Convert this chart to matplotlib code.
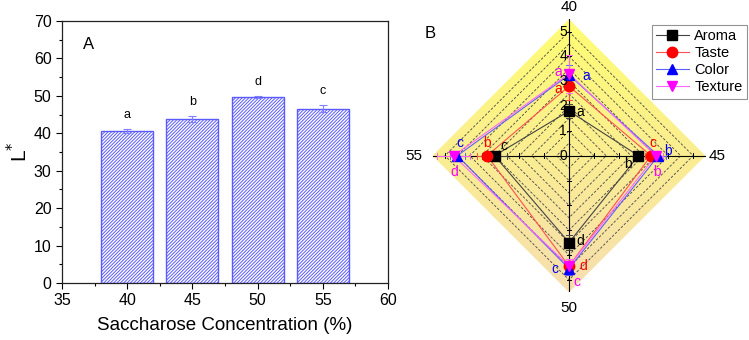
import numpy as np
import matplotlib
matplotlib.use("Agg")
import matplotlib.pyplot as plt
from matplotlib.patches import Polygon
from matplotlib.ticker import MultipleLocator

plt.rcParams['font.family'] = ['Liberation Sans', 'DejaVu Sans']

# ---------------- data ----------------
conc = [40, 45, 50, 55]
L_values = [40.6, 43.8, 49.7, 46.6]
L_err = [0.6, 0.7, 0.3, 0.9]
L_sig = ['a', 'b', 'd', 'c']

radar_levels = ['40', '45', '50', '55']
aroma = [1.8, 2.8, 3.5, 3.0]
taste = [2.8, 3.3, 4.45, 3.3]
color = [3.25, 3.6, 4.55, 4.5]
texture = [3.3, 3.5, 4.45, 4.65]
aroma_err = [0.3, 0.2, 0.3, 0.5]
taste_err = [0.55, 0.25, 0.3, 0.4]
color_err = [0.4, 0.3, 0.25, 0.3]
texture_err = [0.76, 0.3, 0.3, 0.65]
aroma_sig = ['a', 'b', 'd', 'c']
taste_sig = ['a', 'c', 'd', 'b']
color_sig = ['a', 'b', 'c', 'c']
texture_sig = ['a', 'b', 'c', 'd']
radar_ticks = [0, 1, 2, 3, 4, 5]
rmax = 5.5

W, H = 749, 340
fig = plt.figure(figsize=(W / 100, H / 100), dpi=100)

# ---------------- panel A ----------------
ax1 = fig.add_axes([62 / W, 1 - 283 / H, (388 - 62) / W, (283 - 21) / H])
bar_blue = '#5a5aFF'
plt.rcParams['hatch.linewidth'] = 0.7
ax1.bar(conc, L_values, width=4, facecolor='white', edgecolor=bar_blue,
        hatch='//////////', linewidth=1.0, zorder=2)
ax1.errorbar(conc, L_values, yerr=L_err, fmt='none', ecolor='#8080FF',
             elinewidth=0.8, capsize=3, capthick=0.8, zorder=3)
for x, v, e, s in zip(conc, L_values, L_err, L_sig):
    ax1.annotate(s, (x, v + e), xytext=(0, 8), textcoords='offset pixels',
                 ha='center', va='bottom', fontsize=9)
ax1.set_xlim(35, 60)
ax1.set_ylim(0, 70)
ax1.xaxis.set_major_locator(MultipleLocator(5))
ax1.xaxis.set_minor_locator(MultipleLocator(2.5))
ax1.yaxis.set_major_locator(MultipleLocator(10))
ax1.yaxis.set_minor_locator(MultipleLocator(5))
ax1.tick_params(which='major', direction='out', length=4, width=0.8, labelsize=11.5)
ax1.tick_params(which='minor', direction='out', length=2.5, width=0.8)
for sp in ax1.spines.values():
    sp.set_linewidth(0.9)
    sp.set_color('#222222')
ax1.set_xlabel('Saccharose Concentration (%)', fontsize=13.5, labelpad=6)
ax1.set_ylabel('L$^{*}$', fontsize=15, labelpad=2)
ax1.text(0.065, 0.94, 'A', transform=ax1.transAxes, fontsize=12, va='top')

# ---------------- panel B ----------------
R = 136.5
cx, cy = 569, 155.7
ax2 = fig.add_axes([(cx - R) / W, 1 - (cy + R) / H, 2 * R / W, 2 * R / H])
ax2.set_xlim(-rmax, rmax)
ax2.set_ylim(-rmax, rmax)
ax2.axis('off')

angles = np.deg2rad([90, 0, -90, 180])
dirs = np.column_stack([np.cos(angles), np.sin(angles)])

def to_xy(vals):
    v = np.asarray(vals, dtype=float)[:, None]
    return dirs * v

# gradient background clipped to diamond
diamond = Polygon(to_xy([rmax] * 4), closed=True, facecolor='none',
                  edgecolor='none', transform=ax2.transData)
ax2.add_patch(diamond)
top = np.array([255, 253, 115]) / 255
bot = np.array([246, 222, 176]) / 255
t = np.linspace(0, 1, 256)[:, None]
grad = (top[None, :] * (1 - t) + bot[None, :] * t)[:, None, :]
im = ax2.imshow(grad, extent=[-rmax, rmax, -rmax, rmax], aspect='auto',
                origin='upper', zorder=0, interpolation='bilinear')
im.set_clip_path(diamond)

# dashed grid diamonds
for lev in np.arange(0.5, 5.01, 0.5):
    pts = to_xy([lev] * 4)
    pts = np.vstack([pts, pts[:1]])
    ax2.plot(pts[:, 0], pts[:, 1], color='#444444', lw=0.6,
             ls=(0, (3, 2)), zorder=1)

# axes lines and ticks
ax2.plot([-rmax, rmax], [0, 0], color='black', lw=0.8, zorder=2)
ax2.plot([0, 0], [-rmax, rmax], color='black', lw=0.8, zorder=2)
tl = 0.1
for k in radar_ticks[1:]:
    for d in dirs:
        p = d * k
        perp = np.array([-d[1], d[0]]) * tl
        ax2.plot([p[0] - perp[0], p[0] + perp[0]], [p[1] - perp[1], p[1] + perp[1]],
                 color='black', lw=0.7, zorder=2)
for k in radar_ticks:
    ax2.annotate(str(k), (0, k), xytext=(-2, 0), textcoords='offset pixels',
                 ha='right', va='center', fontsize=10, zorder=5)

# axis category labels
label_off = [(0, 12), (3, 0), (0, -16), (-10, 0)]
label_ha = ['center', 'left', 'center', 'right']
label_va = ['center', 'center', 'center', 'center']
for lab, d, off, ha, va in zip(radar_levels, dirs, label_off, label_ha, label_va):
    ax2.annotate(lab, tuple(d * rmax), xytext=off, textcoords='offset pixels',
                 ha=ha, va=va, fontsize=11, annotation_clip=False)

series = [
    ('Aroma', aroma, aroma_err, aroma_sig, 's', 'black', '#444444', 6.5,
     [(11, -1), (-11, -8), (11, 2), (9, 10)]),
    ('Taste', taste, taste_err, taste_sig, 'o', '#FF0000', '#FF5050', 7.5,
     [(-11, -3), (2, 13), (14, 0), (0, 13)]),
    ('Color', color, color_err, color_sig, '^', '#0000FF', '#6060FF', 7,
     [(17, -1), (10, 5), (-14, 0), (3, 13)]),
    ('Texture', texture, texture_err, texture_sig, 'v', '#FF00FF', '#FF66FF', 7,
     [(-11, 2), (1, -16), (8, -16), (1, -16)]),
]

for name, vals, errs, sigs, mk, mc, lc, ms, offs in series:
    pts = to_xy(vals)
    closed = np.vstack([pts, pts[:1]])
    ax2.plot(closed[:, 0], closed[:, 1], color=lc, lw=0.8, zorder=3)
    # radial error bars
    for d, v, e in zip(dirs, vals, errs):
        a = d * (v - e)
        b = d * (v + e)
        ax2.plot([a[0], b[0]], [a[1], b[1]], color=lc, lw=0.7, zorder=3)
        for end in (a, b):
            perp = np.array([-d[1], d[0]]) * 0.12
            ax2.plot([end[0] - perp[0], end[0] + perp[0]],
                     [end[1] - perp[1], end[1] + perp[1]], color=lc, lw=0.7, zorder=3)
    ax2.plot(pts[:, 0], pts[:, 1], ls='none', marker=mk, ms=ms, color=mc,
             markeredgecolor=mc, zorder=4)
    ax2.plot([], [], color=lc, lw=0.8, marker=mk, ms=ms, markerfacecolor=mc,
             markeredgecolor=mc, label=name)
    for p, s, off in zip(pts, sigs, offs):
        ax2.annotate(s, tuple(p), xytext=off, textcoords='offset pixels',
                     ha='center', va='center', fontsize=10, color=mc, zorder=6)

leg = fig.legend(loc='upper right', bbox_to_anchor=(747 / W, 1 - 25 / H),
                 fontsize=10.5, frameon=True, fancybox=False, edgecolor='#777777',
                 borderpad=0.3, labelspacing=0.2, handlelength=2.2,
                 handletextpad=0.4, borderaxespad=0)
leg.get_frame().set_linewidth(0.8)

fig.text(430 / W, 1 - 33 / H, 'B', fontsize=12, ha='center', va='center')

fig.savefig('out.png', dpi=100)
